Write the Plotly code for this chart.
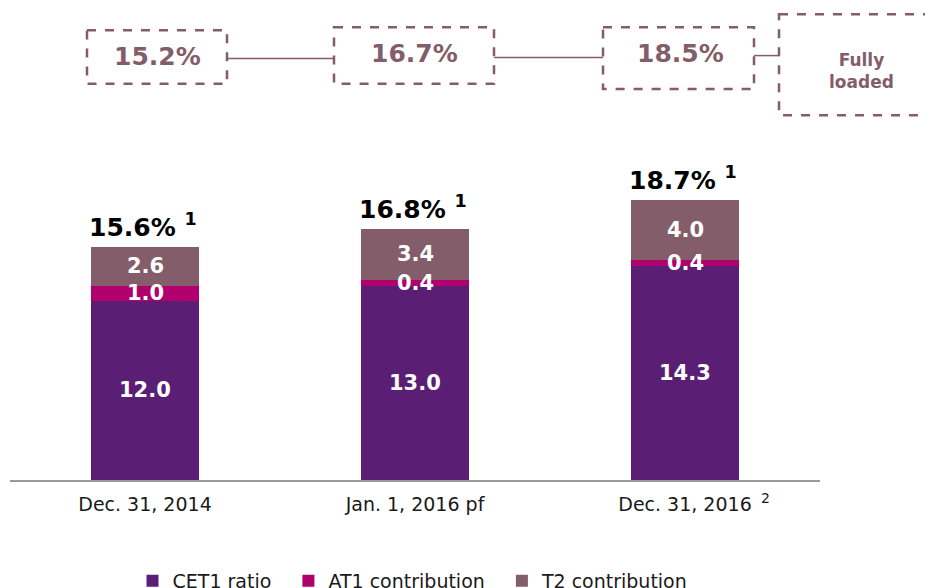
import plotly.graph_objects as go

categories = ["Dec. 31, 2014", "Jan. 1, 2016 pf", "Dec. 31, 2016"]
cet1 = [12.0, 13.0, 14.3]
at1 = [1.0, 0.4, 0.4]
t2 = [2.6, 3.4, 4.0]
totals = [15.6, 16.8, 18.7]
total_labels = ["15.6%", "16.8%", "18.7%"]
fully_loaded = ["15.2%", "16.7%", "18.5%"]
series_names = ["CET1 ratio", "AT1 contribution", "T2 contribution"]

C_CET1 = "#5A1F74"
C_AT1 = "#B1006D"
C_T2 = "#835E6A"
FONT = "DejaVu Sans"

# layout geometry (reference-pixel based)
REF_H = 588
REF_AXIS_Y = 475
W, H = 925, 600
S = H / REF_H
ML, MR, MT = 10, 105, 0
MB = H - REF_AXIS_Y * S
PW = W - ML - MR

def px(x):
    return (x - ML) / PW

def py(y):
    return (REF_AXIS_Y - y) / REF_AXIS_Y

fig = go.Figure()
pad = "\u00a0\u00a0"
for name, vals, col in zip(series_names, [cet1, at1, t2], [C_CET1, C_AT1, C_T2]):
    fig.add_trace(go.Bar(x=categories, y=vals, name=name + pad, marker_color=col, width=0.4,
                         marker_line_width=0, hoverinfo="skip"))

ann = []
for i, c in enumerate(categories):
    base = 0
    for vals in (cet1, at1, t2):
        v = vals[i]
        ann.append(dict(x=c, y=base + v / 2, text=f"<b>{v:.1f}</b>", showarrow=False,
                        font=dict(family=FONT, size=21, color="white"), xanchor="center", yanchor="middle"))
        base += v
    ann.append(dict(x=c, y=totals[i], text=f"<b>{total_labels[i]} <sup>1</sup></b>", showarrow=False,
                    font=dict(family=FONT, size=25, color="black"), xanchor="center", yanchor="bottom",
                    yshift=3, xshift=-2))

ann.append(dict(xref="paper", yref="paper", x=px(765), y=py(493), text="2", showarrow=False,
                font=dict(family=FONT, size=14, color="#1a1a1a"), xanchor="center", yanchor="middle"))

shapes = []
boxes = [(87, 30, 227, 83), (334, 27, 494, 83), (603, 27, 754, 88), (779, 14, 960, 114)]
for (x0, y0, x1, y1) in boxes:
    shapes.append(dict(type="rect", xref="paper", yref="paper", x0=px(x0), x1=px(x1), y0=py(y0), y1=py(y1),
                       line=dict(color=C_T2, width=2.5, dash="dash")))
conns = [(227, 334, 58), (494, 603, 57), (754, 779, 55)]
for (x0, x1, y) in conns:
    shapes.append(dict(type="line", xref="paper", yref="paper", x0=px(x0), x1=px(x1), y0=py(y), y1=py(y),
                       line=dict(color=C_T2, width=1.5)))
box_centers = [(157, 56), (414, 53), (680, 53)]
for (cx, cy), t in zip(box_centers, fully_loaded):
    ann.append(dict(xref="paper", yref="paper", x=px(cx), y=py(cy), text=f"<b>{t}</b>", showarrow=False,
                    font=dict(family=FONT, size=25, color=C_T2), xanchor="center", yanchor="middle"))
ann.append(dict(xref="paper", yref="paper", x=px(861), y=py(70), text="<b>Fully<br>loaded</b>", showarrow=False,
                font=dict(family=FONT, size=17, color=C_T2), xanchor="center", yanchor="middle"))

fig.update_layout(
    width=W, height=H, autosize=False, margin=dict(l=ML, r=MR, t=MT, b=MB),
    barmode="stack", bargap=0.6,
    plot_bgcolor="white", paper_bgcolor="white",
    showlegend=True,
    legend=dict(orientation="h", x=px(419), xanchor="center", y=py(575), yanchor="middle",
                font=dict(family=FONT, size=19, color="#1a1a1a"), traceorder="normal"),
    xaxis=dict(range=[-0.5, 2.5], showline=True, linecolor="#9a9a9a", linewidth=1.5, ticks="",
               ticklabelstandoff=6,
               tickfont=dict(family=FONT, size=19, color="#1a1a1a"), showgrid=False, fixedrange=True),
    yaxis=dict(range=[0, REF_AXIS_Y / 14.8], visible=False, showgrid=False, fixedrange=True),
    annotations=ann, shapes=shapes,
)
fig.write_html("out.html", config={"displayModeBar": False, "responsive": False},
               post_script=("document.body.style.margin='0';document.body.style.overflow='hidden';"))
